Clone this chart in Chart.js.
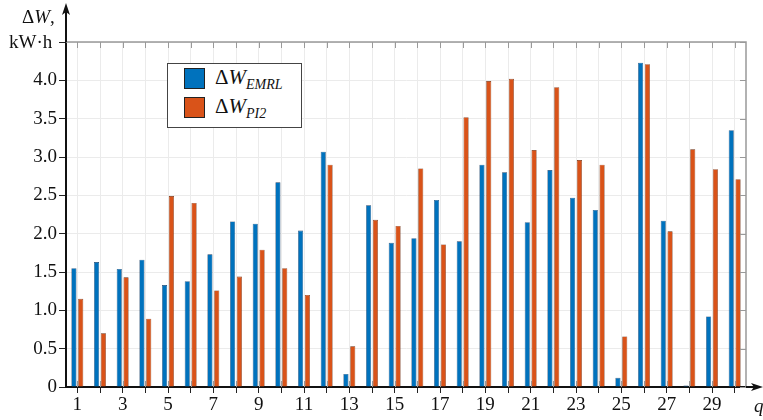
<!DOCTYPE html>
<html lang="en">
<head>
    <meta charset="UTF-8">
    <title>ΔW by q</title>
    <script src="https://cdn.jsdelivr.net/npm/chart.js"></script>
    <style>
        body { margin: 0; background: #fff; }
        #wrap { position: relative; width: 763px; height: 420px; font-family: 'Liberation Serif', 'Times New Roman', serif; color: #111; }
        canvas { position: absolute; left: 0; top: 0; }
        .lbl { position: absolute; font-size: 19px; line-height: 1; white-space: nowrap; }
        .legend {
            position: absolute; left: 167px; top: 63px; width: 133px; height: 63px;
            border: 1.5px solid #444; background: #fff;
        }
        .legend .row { position: absolute; left: 16px; height: 21px; display: flex; align-items: center; }
        .legend .sw { width: 19px; height: 19px; border: 1px solid #222; margin-right: 10px; }
        .legend .txt { font-size: 21px; }
        .legend sub { font-size: 14px; font-style: italic; vertical-align: -5px; }
        i { font-style: italic; }
    </style>
</head>
<body>
<div id="wrap">
    <canvas id="grafico" width="763" height="420"></canvas>
    <div class="lbl" style="left:22px; top:7px;">Δ<i>W</i>,</div>
    <div class="lbl" style="left:9px; top:32px;">kW·h</div>
    <div class="lbl" style="left:754px; top:396px;"><i>q</i></div>
    <div class="legend">
        <div class="row" style="top:4px;"><div class="sw" style="background:#0072BD"></div><span class="txt">Δ<i>W</i><sub>EMRL</sub></span></div>
        <div class="row" style="top:33px;"><div class="sw" style="background:#D95319"></div><span class="txt">Δ<i>W</i><sub>PI2</sub></span></div>
    </div>
</div>
<script>
    // categories q = 1..30
    const categorias = ["1","2","3","4","5","6","7","8","9","10","11","12","13","14","15",
        "16","17","18","19","20","21","22","23","24","25","26","27","28","29","30"];

    const wEMRL = [1.55, 1.63, 1.54, 1.66, 1.33, 1.38, 1.73, 2.16, 2.13, 2.67,
        2.04, 3.07, 0.17, 2.37, 1.88, 1.94, 2.44, 1.90, 2.90, 2.80,
        2.15, 2.83, 2.47, 2.31, 0.12, 4.23, 2.17, 0.02, 0.92, 3.35];

    const wPI2 = [1.15, 0.70, 1.43, 0.89, 2.49, 2.40, 1.26, 1.44, 1.79, 1.55,
        1.20, 2.90, 0.53, 2.18, 2.10, 2.85, 1.86, 3.52, 3.99, 4.02,
        3.09, 3.91, 2.96, 2.90, 0.66, 4.21, 2.03, 3.10, 2.84, 2.71];

    const yTicks = [0, 0.5, 1.0, 1.5, 2.0, 2.5, 3.0, 3.5, 4.0];

    const fonte = { family: "'Liberation Serif', 'Times New Roman', serif", size: 19 };

    // frame, inner ticks and arrows
    const moldura = {
        id: 'moldura',
        afterDraw(chart) {
            const { ctx, chartArea: a, scales } = chart;
            ctx.save();
            ctx.strokeStyle = '#999';
            ctx.lineWidth = 1.5;
            ctx.beginPath();
            ctx.moveTo(a.left, a.top); ctx.lineTo(a.right, a.top); ctx.lineTo(a.right, a.bottom);
            ctx.stroke();
            ctx.lineWidth = 1;
            ctx.beginPath();
            scales.x.ticks.forEach((t, i) => {
                const x = Math.round(scales.x.getPixelForTick(i)) + 0.5;
                ctx.moveTo(x, a.top); ctx.lineTo(x, a.top + 6);
                ctx.moveTo(x, a.bottom - 6); ctx.lineTo(x, a.bottom);
            });
            scales.y.ticks.forEach((t, i) => {
                const y = Math.round(scales.y.getPixelForTick(i)) + 0.5;
                ctx.moveTo(a.right - 6, y); ctx.lineTo(a.right, y);
            });
            ctx.stroke();

            ctx.strokeStyle = '#111';
            ctx.fillStyle = '#111';
            ctx.lineWidth = 2;
            ctx.beginPath();
            ctx.moveTo(a.left, a.top); ctx.lineTo(a.left, 8);
            ctx.moveTo(a.right, a.bottom); ctx.lineTo(759, a.bottom);
            ctx.stroke();
            ctx.beginPath();
            ctx.moveTo(a.left, 3); ctx.lineTo(a.left - 4, 15); ctx.lineTo(a.left, 12); ctx.lineTo(a.left + 4, 15);
            ctx.closePath(); ctx.fill();
            ctx.beginPath();
            ctx.moveTo(763, a.bottom); ctx.lineTo(751, a.bottom - 4); ctx.lineTo(754, a.bottom); ctx.lineTo(751, a.bottom + 4);
            ctx.closePath(); ctx.fill();
            ctx.restore();
        }
    };

    new Chart(document.getElementById('grafico').getContext('2d'), {
        type: 'bar',
        data: {
            labels: categorias,
            datasets: [{
                label: 'ΔW EMRL',
                data: wEMRL,
                backgroundColor: '#0072BD',
                borderColor: '#1a3f66',
                borderWidth: 0.6,
                categoryPercentage: 0.6,
                barPercentage: 0.75
            }, {
                label: 'ΔW PI2',
                data: wPI2,
                backgroundColor: '#D95319',
                borderColor: '#6b2a0c',
                borderWidth: 0.6,
                categoryPercentage: 0.6,
                barPercentage: 0.75
            }]
        },
        options: {
            responsive: false,
            animation: false,
            layout: { padding: { top: 42, right: 17, left: 0, bottom: 0 } },
            plugins: { legend: { display: false }, tooltip: { enabled: false } },
            scales: {
                x: {
                    afterFit: s => { s.height = 33; },
                    grid: { offset: false, color: '#ebebeb', tickColor: '#222', tickLength: 6, lineWidth: 1 },
                    border: { color: '#111', width: 2 },
                    ticks: {
                        autoSkip: false, maxRotation: 0, padding: 1, color: '#111', font: fonte,
                        callback: (v, i) => (i % 2 === 0 ? categorias[i] : '')
                    }
                },
                y: {
                    min: 0, max: 4.5,
                    afterFit: s => { s.width = 66; },
                    afterBuildTicks: s => { s.ticks = yTicks.concat([4.5]).map(v => ({ value: v })); },
                    grid: { color: '#ebebeb', tickColor: '#222', tickLength: 7 },
                    border: { color: '#111', width: 2 },
                    ticks: {
                        padding: 2, color: '#111', font: fonte,
                        callback: v => (v === 4.5 ? '' : (v === 0 ? '0' : v.toFixed(1)))
                    }
                }
            }
        },
        plugins: [moldura]
    });
</script>
</body>
</html>
